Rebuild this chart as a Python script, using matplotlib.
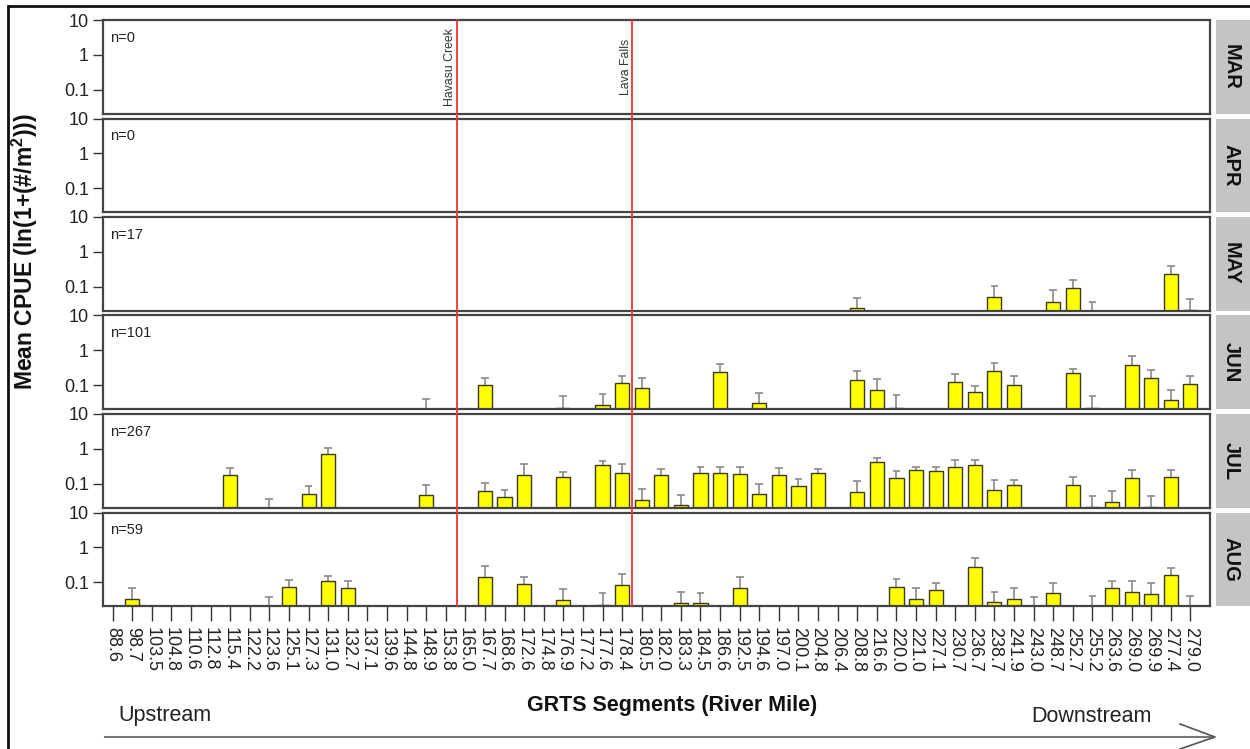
import numpy as np
import matplotlib.pyplot as plt
import matplotlib.transforms as mtransforms
from matplotlib.lines import Line2D
from matplotlib.patches import Rectangle
from matplotlib.ticker import NullLocator

plt.rcParams['font.family'] = ['Liberation Sans', 'DejaVu Sans']
plt.rcParams['mathtext.fontset'] = 'custom'
plt.rcParams['mathtext.rm'] = 'Liberation Sans'
plt.rcParams['mathtext.bf'] = 'Liberation Sans:bold'

# GRTS segments (river mile) along the x axis
segments = ["88.6", "98.7", "103.5", "104.8", "110.6", "112.8", "115.4", "122.2",
            "123.6", "125.1", "127.3", "131.0", "132.7", "137.1", "139.6", "144.8",
            "148.9", "153.8", "165.0", "167.7", "168.6", "172.6", "174.8", "176.9",
            "177.2", "177.6", "178.4", "180.5", "182.0", "183.3", "184.5", "186.6",
            "192.5", "194.6", "197.0", "200.1", "204.8", "206.4", "208.8", "216.6",
            "220.0", "221.0", "227.1", "230.7", "236.7", "238.7", "241.9", "243.0",
            "248.7", "252.7", "255.2", "263.6", "269.0", "269.9", "277.4", "279.0"]

months = ["MAR", "APR", "MAY", "JUN", "JUL", "AUG"]
n_fish = [0, 0, 17, 101, 267, 59]

# per month: segment, mean CPUE, top of error bar (mean 0 = no visible bar)
mar_seg, mar_mean, mar_upper = [], [], []
apr_seg, apr_mean, apr_upper = [], [], []

may_seg = ["208.8", "238.7", "248.7", "252.7", "255.2", "277.4", "279.0"]
may_mean = [0.025, 0.052, 0.038, 0.095, 0, 0.234, 0.022]
may_upper = [0.048, 0.105, 0.08, 0.156, 0.038, 0.39, 0.044]

jun_seg = ["148.9", "167.7", "176.9", "177.6", "178.4", "180.5", "186.6", "194.6",
           "208.8", "216.6", "220.0", "230.7", "236.7", "238.7", "241.9", "252.7",
           "255.2", "269.0", "269.9", "277.4", "279.0"]
jun_mean = [0, 0.10, 0.022, 0.027, 0.117, 0.084, 0.24, 0.031,
            0.146, 0.075, 0.022, 0.125, 0.063, 0.26, 0.10, 0.226,
            0.022, 0.38, 0.16, 0.038, 0.109]
jun_upper = [0.041, 0.166, 0.048, 0.056, 0.19, 0.16, 0.41, 0.06,
             0.26, 0.15, 0.054, 0.21, 0.098, 0.43, 0.18, 0.29,
             0.05, 0.67, 0.28, 0.075, 0.19]

jul_seg = ["115.4", "123.6", "127.3", "131.0", "148.9", "167.7", "168.6", "172.6",
           "176.9", "177.6", "178.4", "180.5", "182.0", "183.3", "184.5", "186.6",
           "192.5", "194.6", "197.0", "200.1", "204.8", "208.8", "216.6", "220.0",
           "221.0", "227.1", "230.7", "236.7", "238.7", "241.9", "252.7", "255.2",
           "263.6", "269.0", "269.9", "277.4"]
jul_mean = [0.18, 0, 0.052, 0.73, 0.049, 0.063, 0.042, 0.18,
            0.157, 0.35, 0.21, 0.034, 0.18, 0.024, 0.21, 0.21,
            0.19, 0.050, 0.18, 0.087, 0.21, 0.060, 0.41, 0.15,
            0.25, 0.235, 0.31, 0.34, 0.066, 0.093, 0.09, 0.022,
            0.030, 0.15, 0.022, 0.16]
jul_upper = [0.29, 0.036, 0.088, 1.06, 0.094, 0.105, 0.068, 0.36,
             0.22, 0.45, 0.38, 0.07, 0.26, 0.048, 0.30, 0.30,
             0.30, 0.10, 0.28, 0.14, 0.27, 0.12, 0.54, 0.24,
             0.31, 0.31, 0.48, 0.48, 0.13, 0.13, 0.155, 0.045,
             0.062, 0.25, 0.045, 0.25]

aug_seg = ["98.7", "123.6", "125.1", "131.0", "132.7", "167.7", "172.6", "176.9",
           "177.6", "178.4", "183.3", "184.5", "192.5", "220.0", "221.0", "227.1",
           "236.7", "238.7", "241.9", "243.0", "248.7", "255.2", "263.6", "269.0",
           "269.9", "277.4", "279.0"]
aug_mean = [0.0325, 0, 0.074, 0.11, 0.069, 0.138, 0.092, 0.032,
            0.022, 0.086, 0.026, 0.025, 0.07, 0.075, 0.0325, 0.062,
            0.28, 0.027, 0.0325, 0, 0.048, 0, 0.067, 0.054,
            0.045, 0.16, 0]
aug_upper = [0.068, 0.038, 0.12, 0.154, 0.11, 0.29, 0.144, 0.063,
             0.05, 0.17, 0.053, 0.05, 0.142, 0.122, 0.067, 0.096,
             0.49, 0.053, 0.067, 0.039, 0.096, 0.04, 0.109, 0.109,
             0.094, 0.25, 0.04]

month_data = [(mar_seg, mar_mean, mar_upper), (apr_seg, apr_mean, apr_upper),
              (may_seg, may_mean, may_upper), (jun_seg, jun_mean, jun_upper),
              (jul_seg, jul_mean, jul_upper), (aug_seg, aug_mean, aug_upper)]

landmarks = ["Havasu Creek", "Lava Falls"]
landmark_pos = [17.55, 26.5]

W, H = 1250, 749
fig = plt.figure(figsize=(W / 100, H / 100), dpi=100)

left_px, right_px = 103, 1210
top0, ph, step = 20, 93.5, 98.5
ymin, base = 0.021, 0.001

axes = []
for i, month in enumerate(months):
    bottom = 1 - (top0 + i * step + ph) / H
    ax = fig.add_axes([left_px / W, bottom, (right_px - left_px) / W, ph / H])
    axes.append(ax)
    seg, mean, upper = month_data[i]
    x = np.array([segments.index(s) for s in seg], dtype=float)
    mean = np.array(mean, dtype=float)
    upper = np.array(upper, dtype=float)

    if len(x):
        low = np.where(mean > 0, mean, base)
        ax.vlines(x, low, upper, color='#8a8a8a', lw=1.2, zorder=1)
        ax.hlines(upper, x - 0.2, x + 0.2, color='#8a8a8a', lw=1.2, zorder=1)
        shown = mean > 0
        ax.bar(x[shown], mean[shown] - base, bottom=base, width=0.72,
               color='#ffff00', edgecolor='#3a3a1a', linewidth=1.0, zorder=2)

    ax.set_yscale('log')
    ax.set_ylim(ymin, 10)
    ax.set_xlim(-0.49, 56.0)
    ax.set_yticks([0.1, 1, 10])
    ax.set_yticklabels(['0.1', '1', '10'])
    ax.yaxis.set_minor_locator(NullLocator())
    ax.tick_params(axis='y', length=7, width=1, color='#333333',
                   labelsize=13, labelcolor='#222222', pad=3)
    ax.set_xticks(range(len(segments)))
    if i == len(months) - 1:
        ax.set_xticklabels(segments, rotation=-90, fontsize=13, color='#222222')
        ax.tick_params(axis='x', length=11, width=1, color='#333333', pad=4)
    else:
        ax.tick_params(axis='x', length=0, labelbottom=False)
    for sp in ax.spines.values():
        sp.set_color('#444444')
        sp.set_linewidth(1.6)

    ax.text(0.006, 0.81, "n=%d" % n_fish[i], transform=ax.transAxes,
            fontsize=10.5, color='#222222', ha='left', va='center')

    # facet strip on the right
    sax = fig.add_axes([1216 / W, bottom, 40 / W, ph / H])
    sax.set_facecolor('#c4c4c4')
    sax.set_xticks([])
    sax.set_yticks([])
    for sp in sax.spines.values():
        sp.set_visible(False)
    sax.text(0.37, 0.5, month, rotation=-90, ha='center', va='center',
             fontsize=14.5, fontweight='bold', color='#111111', transform=sax.transAxes)

# red landmark lines running through all panels
trans = mtransforms.blended_transform_factory(axes[-1].transData, fig.transFigure)
y_top = 1 - top0 / H
y_bot = 1 - (top0 + 5 * step + ph) / H
for name, pos in zip(landmarks, landmark_pos):
    fig.add_artist(Line2D([pos, pos], [y_bot, y_top], transform=trans,
                          color='#ee3333', lw=1.3, zorder=5))
    axes[0].text(pos - 0.32, 0.46, name, rotation=90, ha='center', va='center',
                 fontsize=8.8, color='#333333')

fig.text(25 / W, 1 - 252 / H, "Mean CPUE (ln(1+(#/m$^{\\mathbf{2}}$)))", rotation=90,
         ha='center', va='center', fontsize=16.5, fontweight='bold', color='#111111')
fig.text(672 / W, 1 - 705 / H, "GRTS Segments (River Mile)", ha='center', va='center',
         fontsize=15.5, fontweight='bold', color='#111111')
fig.text(118 / W, 1 - 716 / H, "Upstream", ha='left', va='center', fontsize=15.5,
         color='#222222')
fig.text(1152 / W, 1 - 716 / H, "Downstream", ha='right', va='center', fontsize=15.5,
         color='#222222')

# flow direction arrow
ay = 1 - 737 / H
fig.add_artist(Line2D([105 / W, 1214 / W], [ay, ay], color='#777777', lw=1.5))
fig.add_artist(Line2D([1180 / W, 1215 / W, 1180 / W], [1 - 724 / H, ay, 1 - 749 / H],
                      color='#555555', lw=1.2))

# outer frame
fig.add_artist(Rectangle((8 / W, -0.1), 1.2, 1.1 - 6 / H, transform=fig.transFigure,
                         fill=False, edgecolor='#111111', lw=2))

fig.savefig('out.png', dpi=100)
